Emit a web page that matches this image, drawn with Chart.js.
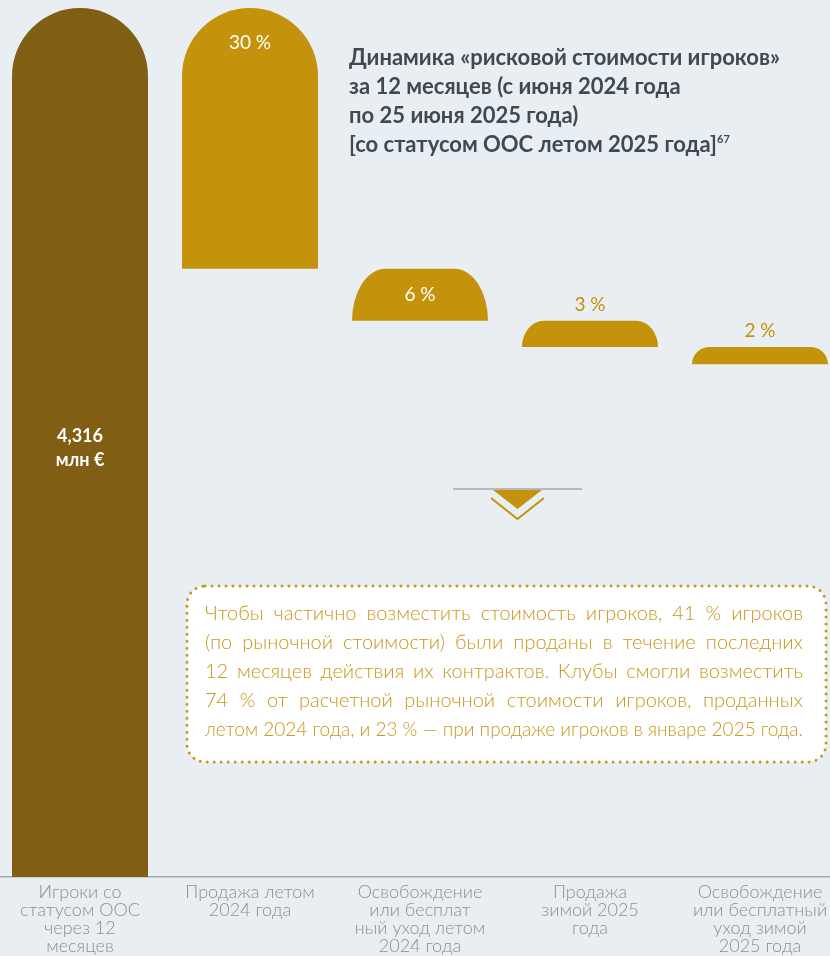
<!DOCTYPE html>
<html>
<head>
<meta charset="utf-8">
<script src="https://cdn.jsdelivr.net/npm/chart.js@4"></script>
<style>
  html, body { margin: 0; padding: 0; background: #e9eef2; overflow: hidden; width: 830px; height: 956px; }
  #wrap { position: absolute; left: -5px; top: 0; width: 850px; height: 956px; }
  #title { position: absolute; left: 349px; top: 42px; font-family: Lato, "Open Sans", sans-serif; font-weight: 700;
           font-size: 22px; line-height: 29px; color: #3d4a54; white-space: nowrap; }
  #title sup { font-size: 11px; vertical-align: 0; position: relative; top: -9px; }
  #deco { position: absolute; left: 0; top: 0; }
  #note { position: absolute; left: 205px; top: 598px; width: 598px; font-family: Lato, "Open Sans", sans-serif;
          font-weight: 300; font-size: 20px; line-height: 29px; color: #c8981c; }
  #note div { white-space: nowrap; height: 29px; }
</style>
</head>
<body>
<div id="wrap"><canvas id="chart" width="850" height="956"></canvas></div>
<svg id="deco" width="830" height="956">
  <rect x="187" y="586" width="639" height="176" rx="18" ry="18" fill="#ffffff"
        stroke="#c8981c" stroke-width="3" stroke-dasharray="0 7" stroke-linecap="round"/>
  <line x1="453" y1="489" x2="582" y2="489" stroke="#a3a7ab" stroke-width="1.5"/>
  <polygon points="493,490 542,490 517.5,509" fill="#c4930b"/>
  <polyline points="491,498 517.5,519 544,498" fill="none" stroke="#c4930b" stroke-width="2"/>
</svg>
<div id="title">
  <div>Динамика «рисковой стоимости игроков»</div>
  <div>за 12 месяцев (с июня 2024 года</div>
  <div>по 25 июня 2025 года)</div>
  <div>[со статусом ООС летом 2025 года]<sup>67</sup></div>
</div>
<div id="note">
  <div>Чтобы частично возместить стоимость игроков, 41 % игроков</div>
  <div>(по рыночной стоимости) были проданы в течение последних</div>
  <div>12 месяцев действия их контрактов. Клубы смогли возместить</div>
  <div>74 % от расчетной рыночной стоимости игроков, проданных</div>
  <div>летом 2024 года, и 23 % — при продаже игроков в январе 2025 года.</div>
</div>
<script>
// категории (подписи оси X)
const categories = [
  ["Игроки со", "статусом ООС", "через 12", "месяцев"],
  ["Продажа летом", "2024 года"],
  ["Освобождение", "или бесплат", "ный уход летом", "2024 года"],
  ["Продажа", "зимой 2025", "года"],
  ["Освобождение", "или бесплатный", "уход зимой", "2025 года"]
];
// итог = 100 % (4,316 млн €), затем уменьшения в %
const totalValue = 100;
const totalLabel = ["4,316", "млн €"];
const steps = [30, 6, 3, 2];
const stepLabels = ["30 %", "6 %", "3 %", "2 %"];
const barColors = ["#805f15", "#c4930b", "#c4930b", "#c4930b", "#c4930b"];

// плавающие диапазоны для водопада
const ranges = [[0, totalValue]];
let level = totalValue;
steps.forEach(s => {
  ranges.push([level - s, level]);
  level -= s;
});
const barLabels = [totalLabel].concat(stepLabels);

// столбцы с закругленным верхом (эллиптические углы)
const archBars = {
  id: "archBars",
  beforeDatasetDraw(chart, args) {
    const ctx = chart.ctx;
    args.meta.data.forEach(bar => {
      const { x, y, base, width } = bar.getProps(["x", "y", "base", "width"], true);
      const left = x - width / 2, right = x + width / 2;
      const h = base - y;
      const ry = Math.min(h, width / 2);
      const rx = ry >= width / 2 ? width / 2 : Math.min(width / 2, ry * 0.45 + 10);
      ctx.save();
      ctx.fillStyle = bar.options.backgroundColor;
      ctx.beginPath();
      ctx.moveTo(left, base);
      ctx.lineTo(left, y + ry);
      ctx.ellipse(left + rx, y + ry, rx, ry, 0, Math.PI, 1.5 * Math.PI);
      ctx.lineTo(right - rx, y);
      ctx.ellipse(right - rx, y + ry, rx, ry, 0, 1.5 * Math.PI, 2 * Math.PI);
      ctx.lineTo(right, base);
      ctx.closePath();
      ctx.fill();
      ctx.restore();
    });
    return false;
  },
  afterDatasetsDraw(chart) {
    const ctx = chart.ctx;
    const meta = chart.getDatasetMeta(0);
    ctx.save();
    ctx.textAlign = "center";
    ctx.textBaseline = "middle";
    meta.data.forEach((bar, i) => {
      const { x, y, base } = bar.getProps(["x", "y", "base"], true);
      const h = base - y;
      const lbl = barLabels[i];
      if (i === 0) {
        ctx.fillStyle = "#ffffff";
        ctx.font = "700 18px Lato, 'Open Sans', sans-serif";
        const mid = (y + base) / 2 + 6;
        ctx.fillText(lbl[0], x, mid - 12);
        ctx.fillText(lbl[1], x, mid + 12);
      } else if (h > 40) {
        ctx.fillStyle = "#ffffff";
        ctx.font = "400 19px Lato, 'Open Sans', sans-serif";
        ctx.fillText(lbl, x, Math.min(y + h / 2, y + 35));
      } else {
        ctx.fillStyle = "#c4930b";
        ctx.font = "400 19px Lato, 'Open Sans', sans-serif";
        ctx.fillText(lbl, x, y - 16);
      }
    });
    ctx.restore();
  }
};

new Chart(document.getElementById("chart"), {
  type: "bar",
  data: {
    labels: categories,
    datasets: [{
      data: ranges,
      backgroundColor: barColors,
      barPercentage: 0.8,
      categoryPercentage: 1
    }]
  },
  options: {
    responsive: false,
    devicePixelRatio: 1,
    animation: false,
    layout: { padding: { top: 8, left: 0, right: 0, bottom: 0 } },
    plugins: { legend: { display: false }, tooltip: { enabled: false } },
    scales: {
      x: {
        grid: { display: false, drawTicks: false },
        border: { display: true, color: "#a7abaf", width: 1.5 },
        ticks: {
          color: "#8a8f94",
          font: { family: "Lato, 'Open Sans', sans-serif", size: 18, weight: 300, lineHeight: 1.0 },
          padding: 6,
          maxRotation: 0,
          autoSkip: false
        },
        afterFit(scale) { scale.height = 79; }
      },
      y: { display: false, min: 0, max: totalValue }
    }
  },
  plugins: [archBars]
});

// выравнивание строк врезки по ширине
document.fonts.ready.then(() => {
  const target = 598;
  document.querySelectorAll("#note div").forEach(line => {
    line.style.display = "inline-block";
    const w = line.getBoundingClientRect().width;
    const gaps = line.textContent.split(" ").length - 1;
    if (w < target && gaps > 0) {
      line.style.wordSpacing = ((target - w) / gaps) + "px";
    } else if (w > target) {
      line.style.transformOrigin = "0 0";
      line.style.transform = "scaleX(" + (target / w) + ")";
    }
    line.style.display = "block";
  });
});
</script>
</body>
</html>
